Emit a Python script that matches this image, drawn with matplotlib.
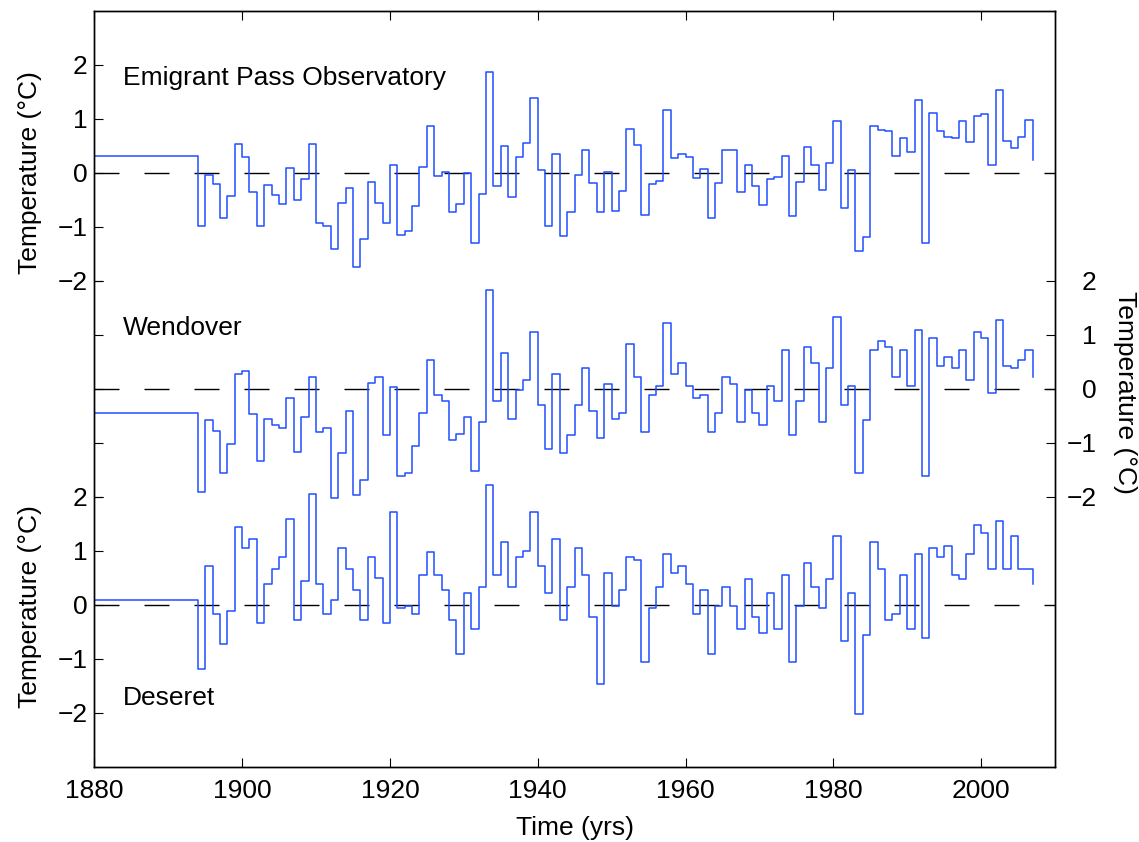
import numpy as np
import matplotlib
matplotlib.use("Agg")
import matplotlib.pyplot as plt

plt.rcParams["font.family"] = ["Liberation Sans", "DejaVu Sans"]
plt.rcParams["axes.unicode_minus"] = True

# ---- data: annual temperature anomalies (deg C), stairs from 1894 to 2007 ----
start_year = 1880
years = np.arange(1894, 2008)

emigrant_base = 0.32
emigrant = [
    -0.98, -0.04, -0.20, -0.83, -0.42, 0.54, 0.30, -0.35, -0.98, -0.23,
    -0.41, -0.57, 0.09, -0.50, -0.12, 0.54, -0.92, -0.98, -1.40, -0.56,
    -0.27, -1.74, -1.23, -0.17, -0.55, -0.92, 0.14, -1.14, -1.07, -0.61,
    0.11, 0.87, -0.05, 0.01, -0.73, -0.57, 0.00, -1.29, -0.38, 1.87,
    -0.24, 0.50, -0.45, 0.29, 0.55, 1.38, 0.05, -0.99, 0.36, -1.16,
    -0.72, -0.04, 0.43, -0.19, -0.72, 0.02, -0.70, -0.33, 0.81, 0.51,
    -0.77, -0.20, -0.14, 1.17, 0.28, 0.36, 0.29, -0.10, 0.07, -0.83,
    -0.18, 0.43, 0.43, -0.35, 0.15, -0.24, -0.60, -0.11, -0.07, 0.32,
    -0.80, -0.17, 0.49, 0.15, -0.32, 0.19, 0.97, -0.64, 0.06, -1.44,
    -1.19, 0.87, 0.80, 0.78, 0.31, 0.64, 0.38, 1.35, -1.29, 1.12,
    0.77, 0.67, 0.65, 0.96, 0.58, 1.06, 1.10, 0.15, 1.54, 0.60,
    0.46, 0.67, 0.98, 0.24,
]

wendover_base = -0.45
wendover = [
    -1.90, -0.57, -0.78, -1.56, -1.01, 0.27, 0.33, -0.46, -1.34, -0.56,
    -0.67, -0.73, -0.17, -1.17, -0.51, 0.22, -0.79, -0.73, -2.01, -1.18,
    -0.40, -1.96, -1.68, 0.11, 0.22, -0.85, 0.04, -1.62, -1.56, -1.06,
    -0.45, 0.54, -0.12, -0.23, -0.95, -0.84, -0.51, -1.51, -0.62, 1.83,
    -0.23, 0.66, -0.56, -0.01, 0.17, 1.05, -0.29, -1.12, 0.27, -1.18,
    -0.85, -0.29, 0.38, -0.40, -0.90, 0.10, -0.56, -0.45, 0.83, 0.22,
    -0.79, -0.12, 0.05, 1.22, 0.27, 0.49, 0.05, -0.17, -0.12, -0.79,
    -0.45, 0.22, 0.10, -0.62, -0.01, -0.45, -0.67, 0.05, -0.23, 0.72,
    -0.85, -0.23, 0.77, 0.49, -0.62, 0.38, 1.33, -0.29, 0.05, -1.56,
    -0.57, 0.72, 0.88, 0.77, 0.22, 0.72, 0.05, 1.10, -1.62, 0.94,
    0.43, 0.60, 0.38, 0.72, 0.17, 1.05, 0.94, -0.07, 1.27, 0.43,
    0.38, 0.54, 0.72, 0.22,
]

deseret_base = 0.09
deseret = [
    -1.18, 0.72, -0.17, -0.73, -0.12, 1.44, 1.05, 1.22, -0.34, 0.38,
    0.67, 0.88, 1.60, -0.28, 0.44, 2.06, 0.38, -0.17, 0.10, 1.05,
    0.67, 0.27, -0.28, 0.88, 0.50, -0.34, 1.72, -0.06, -0.01, -0.17,
    0.55, 0.99, 0.55, 0.27, -0.28, -0.90, 0.22, -0.45, 0.33, 2.22,
    0.55, 1.17, 0.33, 0.88, 1.00, 1.72, 0.72, 0.22, 1.22, -0.28,
    0.33, 1.05, 0.55, -0.23, -1.46, 0.60, -0.01, 0.27, 0.88, 0.83,
    -1.06, -0.06, 0.33, 0.94, 0.60, 0.72, 0.38, -0.17, 0.27, -0.90,
    -0.01, 0.33, -0.01, -0.45, 0.49, -0.23, -0.51, 0.22, -0.45, 0.55,
    -1.06, -0.01, 0.77, 0.33, -0.06, 0.49, 1.27, -0.67, 0.22, -2.01,
    -0.56, 1.17, 0.67, -0.28, -0.17, 0.55, -0.45, 0.94, -0.62, 1.05,
    0.88, 1.10, 0.55, 0.49, 0.94, 1.49, 1.33, 0.67, 1.55, 0.67,
    1.27, 0.67, 0.67, 0.38,
]

stations = ["Emigrant Pass Observatory", "Wendover", "Deseret"]
offsets = [4, 0, -4]
series = [(emigrant_base, emigrant), (wendover_base, wendover), (deseret_base, deseret)]
label_y = [5.76, 1.13, -5.72]

xticks = [1880, 1900, 1920, 1940, 1960, 1980, 2000]
yticks_local = [-2, -1, 0, 1, 2]

blue = "#1f4fff"

fig = plt.figure(figsize=(11.39, 8.42), dpi=100)
ax = fig.add_axes([94.3 / 1139, 1 - 767 / 842, (1055 - 94.3) / 1139, (767 - 11) / 842])

x_all = np.concatenate([[start_year], years])
for (base, vals), off in zip(series, offsets):
    y_all = np.concatenate([[base], vals]) + off
    ax.step(x_all, y_all, where="post", color=blue, lw=1.1)
    ax.plot([1880, 2010], [off, off], color="black", lw=1.0,
            linestyle=(0, (18, 18)), zorder=1)

for name, ly in zip(stations, label_y):
    ax.text(1883.9, ly, name, fontsize=19, ha="left", va="center")

ax.set_xlim(1880, 2010)
ax.set_ylim(-7, 7)
ax.set_xticks(xticks)
ax.set_xticklabels([str(t) for t in xticks])

left_ticks = [v - 4 for v in yticks_local] + [v + 4 for v in yticks_local]
ax.set_yticks(left_ticks)
ax.set_yticklabels([f"{v:g}".replace("-", "\u2212") for v in yticks_local] * 2)
ax.tick_params(axis="both", direction="in", length=6.5, width=0.8,
               labelsize=19, top=True, right=True)
ax.tick_params(axis="x", pad=9)
ax.tick_params(axis="y", pad=5)

ax2 = ax.twinx()
ax2.set_ylim(-7, 7)
ax2.set_yticks(yticks_local)
ax2.set_yticklabels([f"{v:g}".replace("-", "\u2212") for v in yticks_local])
ax2.tick_params(axis="y", direction="in", length=6.5, width=0.8,
                labelsize=19, left=True, pad=30)
for lab in ax2.get_yticklabels():
    lab.set_horizontalalignment("right")

for a in (ax, ax2):
    for sp in a.spines.values():
        sp.set_linewidth(1.0)

ax.set_xlabel("Time (yrs)", fontsize=19, labelpad=9)
fig.text(30 / 1139, 1 - 173 / 842, "Temperature (\u00b0C)", rotation=90,
         fontsize=19, ha="center", va="center")
fig.text(30 / 1139, 1 - 607 / 842, "Temperature (\u00b0C)", rotation=90,
         fontsize=19, ha="center", va="center")
fig.text(1125 / 1139, 1 - 392 / 842, "Temperature (\u00b0C)", rotation=270,
         fontsize=19, ha="center", va="center")

fig.savefig("out.png", dpi=100)
